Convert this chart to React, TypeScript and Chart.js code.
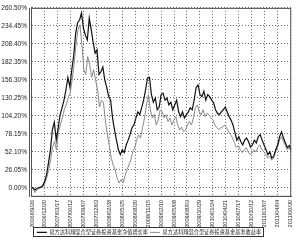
import React, { useEffect, useRef } from "react";
import { Chart, registerables } from "chart.js";

Chart.register(...registerables);

const xTickLabels = [
  "2006/09/26", "2006/12/20", "2007/03/17", "2007/06/12", "2007/09/07",
  "2007/12/03", "2008/02/28", "2008/05/25", "2008/08/20", "2008/11/15",
  "2009/02/10", "2009/05/08", "2009/08/03", "2009/10/29", "2010/01/24",
  "2010/04/21", "2010/07/17", "2010/10/12", "2011/01/07", "2011/04/04",
  "2011/06/30",
];

const yTickValues = [0, 26.05, 52.1, 78.15, 104.2, 130.25, 156.3, 182.35, 208.4, 234.45, 260.5];
const yTickLabels = ["0.00%", "26.05%", "52.10%", "78.15%", "104.20%", "130.25%", "156.30%", "182.35%", "208.40%", "234.45%", "260.50%"];

const seriesNames = [
  "易方达科翔混合型证券投资基金净值增长率",
  "易方达科翔混合型证券投资基金基准收益率",
];

// fund cumulative growth (%)
const fundGrowth = [
  1, 0, -3, -1, 0, 1, 3, 9, 19, 36, 55, 84, 95, 69, 87, 106, 116, 127, 142, 160,
  146, 171, 192, 224, 239, 243, 253, 231, 221, 214, 246, 229, 211, 195, 200, 164,
  168, 175, 156, 145, 132, 127, 101, 84, 69, 55, 48, 55, 51, 62, 69, 77, 87, 91,
  101, 110, 106, 116, 127, 142, 159, 160, 135, 124, 130, 113, 117, 135, 137, 127,
  130, 120, 124, 113, 120, 127, 110, 103, 110, 101, 106, 110, 116, 113, 127, 145,
  149, 135, 132, 140, 127, 135, 132, 127, 123, 113, 108, 106, 110, 113, 117, 110,
  103, 98, 91, 80, 69, 74, 67, 62, 69, 72, 67, 59, 62, 69, 65, 74, 77, 69, 62, 55,
  48, 52, 43, 46, 55, 62, 74, 81, 72, 65, 58, 61, 55,
];

// benchmark growth (%)
const benchmarkGrowth = [
  0, -1, -7, -3, -1, 0, 1, 6, 14, 26, 40, 59, 67, 55, 80, 91, 101, 113, 120, 130,
  137, 156, 178, 207, 229, 236, 207, 171, 164, 190, 178, 160, 171, 156, 142, 117,
  127, 124, 98, 77, 62, 43, 33, 26, 14, 7, 12, 7, 17, 26, 33, 40, 52, 58, 69, 77,
  72, 87, 101, 120, 135, 113, 101, 106, 91, 98, 113, 110, 101, 106, 96, 101, 91,
  98, 103, 91, 84, 88, 81, 84, 91, 96, 91, 101, 116, 120, 110, 106, 113, 103, 108,
  106, 101, 98, 91, 87, 84, 87, 88, 91, 87, 81, 77, 72, 65, 58, 61, 55, 51, 55, 58,
  52, 48, 51, 55, 52, 59, 62, 55, 52, 48, 43, 46, 40, 43, 52, 59, 69, 74, 67, 61,
  55, 58, 52,
];

const X_MAX = 133;
const FONT = "'Liberation Sans', 'Noto Sans CJK SC', sans-serif";

const framePlugin = {
  id: "frame",
  afterDatasetsDraw(chart: any) {
    const { ctx, chartArea } = chart;
    const { left, top, right, bottom } = chartArea;
    ctx.save();
    ctx.strokeStyle = "#555";
    ctx.lineWidth = 1;
    ctx.setLineDash([]);
    ctx.strokeRect(left + 0.5, top + 0.5, right - left - 1, bottom - top - 1);
    ctx.beginPath();
    ctx.moveTo(left - 1.5, top);
    ctx.lineTo(left - 1.5, bottom);
    ctx.stroke();
    ctx.restore();
  },
  afterDraw(chart: any) {
    const legend = chart.legend;
    if (!legend || !legend.legendHitBoxes || !legend.legendHitBoxes.length) return;
    let l = Infinity, r = -Infinity, t = Infinity, b = -Infinity;
    for (const hb of legend.legendHitBoxes) {
      l = Math.min(l, hb.left);
      r = Math.max(r, hb.left + hb.width);
      t = Math.min(t, hb.top);
      b = Math.max(b, hb.top + hb.height);
    }
    const ctx = chart.ctx;
    ctx.save();
    ctx.strokeStyle = "#333";
    ctx.lineWidth = 1;
    ctx.setLineDash([]);
    ctx.strokeRect(Math.round(l) - 3.5, Math.round(t) - 2.5, Math.round(r - l) + 6, Math.round(b - t) + 4);
    ctx.restore();
  },
};

function toPoints(arr: number[]) {
  return arr.map((v, i) => ({ x: (i * X_MAX) / (arr.length - 1), y: v }));
}

export default function App() {
  const ref = useRef<HTMLCanvasElement>(null);

  useEffect(() => {
    if (!ref.current) return;
    const tickStep = (X_MAX - 1) / (xTickLabels.length - 1);
    const xTickPositions = xTickLabels.map((_, i) => 0.5 + i * tickStep);

    const chart = new Chart(ref.current, {
      type: "line",
      data: {
        datasets: [
          {
            label: seriesNames[0],
            data: toPoints(fundGrowth),
            borderColor: "#111111",
            backgroundColor: "#111111",
            borderWidth: 1.2,
            pointRadius: 0,
            pointStyle: "line",
            tension: 0,
          },
          {
            label: seriesNames[1],
            data: toPoints(benchmarkGrowth),
            borderColor: "#8a8a8a",
            backgroundColor: "#8a8a8a",
            borderWidth: 1,
            pointRadius: 0,
            pointStyle: "line",
            tension: 0,
          },
        ],
      },
      options: {
        responsive: false,
        animation: false,
        devicePixelRatio: 1,
        layout: { padding: { top: 6, right: 2, left: 0, bottom: 0 } },
        plugins: {
          tooltip: { enabled: false },
          legend: {
            position: "bottom",
            labels: {
              usePointStyle: true,
              pointStyleWidth: 10,
              boxHeight: 5,
              padding: 2,
              color: "#222",
              font: { size: 5.2, family: FONT },
            },
          },
        },
        scales: {
          x: {
            type: "linear",
            min: 0,
            max: X_MAX,
            afterBuildTicks: (scale: any) => {
              scale.ticks = xTickPositions.map((v) => ({ value: v }));
            },
            afterFit: (scale: any) => {
              scale.height = 31;
            },
            ticks: {
              autoSkip: false,
              minRotation: 90,
              maxRotation: 90,
              padding: 3,
              color: "#222",
              font: { size: 5.6, family: FONT },
              callback: (_v: any, i: number) => xTickLabels[i],
            },
            grid: {
              color: "#666",
              drawTicks: false,
              lineWidth: 1,
            },
            border: { display: true, color: "#555", dash: [1, 2] },
          },
          y: {
            type: "linear",
            min: -13.025,
            max: 260.5,
            afterBuildTicks: (scale: any) => {
              scale.ticks = yTickValues.map((v) => ({ value: v }));
            },
            afterFit: (scale: any) => {
              scale.width = 31;
            },
            ticks: {
              padding: 4,
              color: "#222",
              font: { size: 6.5, family: FONT },
              callback: (_v: any, i: number) => yTickLabels[i],
            },
            grid: {
              color: "#666",
              drawTicks: false,
              lineWidth: 1,
            },
            border: { display: true, color: "#555", dash: [1, 2] },
          },
        },
      },
      plugins: [framePlugin],
    });
    return () => chart.destroy();
  }, []);

  return (
    <div style={{ position: "absolute", left: 0, top: 0, width: 300, height: 245, background: "#fff" }}>
      <canvas ref={ref} width={300} height={245} />
    </div>
  );
}
